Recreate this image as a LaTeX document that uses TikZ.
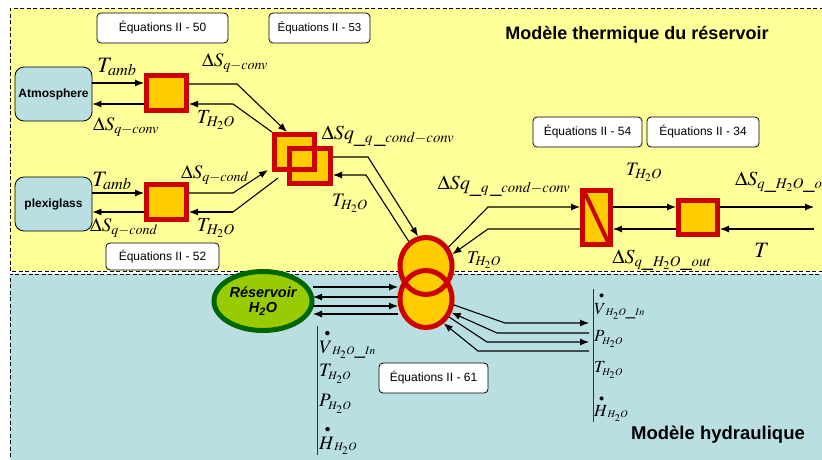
\documentclass[tikz,border=0pt]{standalone}
\usepackage{mathptmx}
\usepackage{fontspec}
\setmainfont{Liberation Sans}
\usetikzlibrary{arrows.meta,calc,shapes.geometric}
\definecolor{ybg}{HTML}{FFFF99}
\definecolor{bbg}{HTML}{B9DFE3}
\definecolor{orng}{HTML}{FFCC00}
\definecolor{bred}{HTML}{CC0000}
\definecolor{gfill}{HTML}{99CC00}
\definecolor{gline}{HTML}{006600}
\newcommand{\fsz}[1]{\fontsize{#1}{#1}\selectfont}
\newcommand{\sbsc}[1]{_{\scriptscriptstyle #1}}
\newcommand{\bdot}[1]{\mathord{\stackrel{\raisebox{1pt}{\scalebox{0.6}{$\bullet$}}}{#1}}}
\begin{document}
\begin{tikzpicture}[x=1pt,y=-1pt,
  conn/.style={line width=1.1pt},
  arr/.style={conn,-{Latex[length=9pt,width=7pt]}},
  dashline/.style={line width=0.9pt,dash pattern=on 4pt off 2.5pt},
  redsq/.style={fill=orng,draw=bred,line width=5pt,inner sep=0pt},
  fillonly/.style={fill=orng,inner sep=0pt,outer sep=0pt},
  outline/.style={draw=bred,line width=5pt,inner sep=0pt},
  eqbox/.style={draw,fill=white,rounded corners=4pt,line width=0.8pt,inner sep=0pt,minimum height=30,font=\fsz{12}},
  srcbox/.style={draw,fill=bbg,rounded corners=9pt,line width=0.8pt,inner sep=0pt,minimum width=77,minimum height=54,font=\fsz{12}\bfseries},
  lbl/.style={inner sep=0pt,font=\fsz{19}},
  title/.style={inner sep=0pt,font=\fsz{18}\bfseries},
  vline/.style={line width=1pt,black!80}]
\useasboundingbox (0,0) rectangle (822,459);
% backgrounds
\fill[white] (0,0) rectangle (822,459);
\fill[ybg] (10,8) rectangle (830,271);
\fill[bbg] (10,274) rectangle (830,470);
\draw[dashline] (830,8) -- (10,8) -- (10,271) -- (830,271);
\draw[dashline] (10,470) -- (10,274) -- (830,274);

% titles and equation boxes
\node[title] (tth) at (637,35) {Modèle thermique du réservoir};
\node[title,font=\fsz{18.5}\bfseries] (thy) at (718,435) {Modèle hydraulique};
\node[eqbox,minimum width=131] (e50) at (162.5,28) {Équations II - 50};
\node[eqbox,minimum width=101,font=\fsz{11.5}] (e53) at (319.5,28) {Équations II - 53};
\node[eqbox,minimum width=113,minimum height=27] (e52) at (162.5,256.5) {Équations II - 52};
\node[eqbox,minimum width=109] (e54) at (587.5,132) {Équations II - 54};
\node[eqbox,minimum width=112] (e34) at (703,132) {Équations II - 34};
\node[eqbox,minimum width=109] (e61) at (433.5,378) {Équations II - 61};

% sources
\node[srcbox] (atm) at (53.5,94) {Atmosphere};
\node[srcbox] (plex) at (53.5,204) {plexiglass};

% red/orange blocks
\node[redsq,minimum width=40,minimum height=35] (sq1) at (166.5,93) {};
\node[redsq,minimum width=40,minimum height=35] (sq2) at (166.5,202) {};
\node[fillonly,minimum width=45,minimum height=40] (dsqAf) at (294.5,152) {};
\node[fillonly,minimum width=46,minimum height=40] (dsqBf) at (310,166) {};
\node[outline,minimum width=40,minimum height=35] (dsqA) at (294.5,152) {};
\node[outline,minimum width=41,minimum height=35] (dsqB) at (310,166) {};
\node[redsq,minimum width=28,minimum height=54] (rectD) at (596.5,217.5) {};
\draw[bred,line width=4pt] ($(rectD.north west)+(5,5)$) -- ($(rectD.south east)+(-5,-5)$);
\node[redsq,minimum width=39,minimum height=34] (sq4) at (698,217.5) {};

% two circles
\node[ellipse,fillonly,minimum width=57,minimum height=62] (cAf) at (426,266) {};
\node[ellipse,fillonly,minimum width=57,minimum height=62] (cBf) at (426,299) {};
\node[ellipse,outline,minimum width=52,minimum height=57] (cA) at (426,266) {};
\node[ellipse,outline,minimum width=52,minimum height=57] (cB) at (426,299) {};

% reservoir
\node[ellipse,fill=gfill,draw=gline,line width=5pt,inner sep=0pt,minimum width=98,minimum height=59,
      align=center,font=\fsz{14.5}\bfseries\itshape] (res) at (263,301) {Réservoir\\[1pt]H\textsubscript{2}O};

% coordinates for rows and bends
\coordinate (y83) at (0,83);   \coordinate (y104) at (0,104);
\coordinate (y193) at (0,193); \coordinate (y212) at (0,212);
\coordinate (y207) at (0,207); \coordinate (y229) at (0,229);
\coordinate (k1) at (237,84);  \coordinate (k2) at (233,104);
\coordinate (k3) at (233,193); \coordinate (k4) at (233,212);
\coordinate (k5) at (368,157); \coordinate (k6) at (366,175);
\coordinate (k7) at (488,207); \coordinate (k8) at (488,229);
\coordinate (outR) at (814,207); \coordinate (inR) at (814,229);

% left connectors
\draw[arr] (atm.east |- y83) -- (sq1.west |- y83);
\draw[arr] (sq1.west |- y104) -- (atm.east |- y104);
\draw[arr] (plex.east |- y193) -- (sq2.west |- y193);
\draw[arr] (sq2.west |- y212) -- (plex.east |- y212);
\draw[arr] (sq1.east |- k1) -- (k1) -- ($(dsqA.north west)+(15,0)$);
\draw[arr] (dsqA.north west) -- (k2) -- (sq1.east |- k2);
\draw[arr] (sq2.east |- k3) -- (k3) -- ($(dsqA.south west)+(-4,-2)$);
\draw[conn] ($(dsqA.south west)+(6,6)$) -- (k4);
\draw[arr] (k4) -- (sq2.east |- k4);
% centre connectors
\draw[arr] (dsqB.east |- k5) -- (k5) -- (cA.105);
\draw[arr] (cA.125) -- (k6) -- (dsqB.east |- k6);
% right connectors
\draw[arr] (cA.40) -- (k7) -- (rectD.west |- k7);
\draw[arr] (rectD.west |- k8) -- (k8) -- (cA.24);
\draw[arr] (rectD.east |- y207) -- (sq4.west |- y207);
\draw[arr] (sq4.west |- y229) -- (rectD.east |- y229);
\draw[arr] (sq4.east |- outR) -- (outR);
\draw[arr] (inR) -- (sq4.east |- inR);

% reservoir <-> circles
\coordinate (rx) at (313,0); \coordinate (cx) at (398,0);
\coordinate (h1) at (0,287); \coordinate (h2) at (0,297);
\coordinate (h3) at (0,306); \coordinate (h4) at (0,314);
\draw[arr] (rx |- h1) -- (cx |- h1);
\draw[arr] (cx |- h2) -- (rx |- h2);
\draw[arr] (rx |- h3) -- (cx |- h3);
\draw[arr] (cx |- h4) -- (rx |- h4);

% circles -> right list
\coordinate (b1) at (505,323); \coordinate (b2) at (497,333);
\coordinate (b3) at (487,342); \coordinate (b4) at (478,351);
\coordinate (vr) at (589,0);
\draw[arr] (cB.-12) -- (b1) -- (vr |- b1);
\draw[arr] (vr |- b2) -- (b2) -- (cB.-28);
\draw[arr] (cB.-38) -- (b3) -- (vr |- b3);
\draw[arr] (vr |- b4) -- (b4) -- (cB.-54);

% vertical bars
\coordinate (vlt) at (317,326); \coordinate (vlb) at (317,455);
\coordinate (vrt) at (593,289); \coordinate (vrb) at (593,422);
\draw[vline] (vlt) -- (vlb);
\draw[vline] (vrt) -- (vrb);

% labels top-left
\node[lbl,font=\fsz{22}] (l1) at (117,67) {$T_{amb}$};
\node[lbl] (l2) at (126,127) {$\Delta S_{q-conv}$};
\node[lbl] (l3) at (235,63) {$\Delta S_{q-conv}$};
\node[lbl,font=\fsz{20}] (l4) at (216,120) {$T_{H_2O}$};
\node[lbl,font=\fsz{22}] (l5) at (112,181) {$T_{amb}$};
\node[lbl] (l6) at (124,228) {$\Delta S_{q-cond}$};
\node[lbl] (l7) at (215,175) {$\Delta S_{q-cond}$};
\node[lbl,font=\fsz{20}] (l8) at (216,228) {$T_{H_2O}$};
% labels centre
\node[lbl,font=\fsz{20}] (l9) at (388,136) {$\Delta Sq_{\_q\,\_cond-conv}$};
\node[lbl] (l10) at (350,203) {$T_{H_2O}$};
\node[lbl,font=\fsz{20}] (l11) at (504,186) {$\Delta Sq_{\_q\,\_cond-conv}$};
\node[lbl,font=\fsz{18}] (l12) at (484,260) {$T_{H_2O}$};
% labels right
\node[lbl] (l13) at (644,172) {$T_{H_2O}$};
\node[lbl,font=\fsz{20}] (l14) at (662,260) {$\Delta S_{q\_H_2O\_out}$};
\node[lbl,font=\fsz{20},anchor=west] (l15) at (735,182) {$\Delta S_{q\_H_2O\_out}$};
\node[lbl,font=\fsz{22}] (l16) at (762,250) {$T$};

% left list
\node[lbl,anchor=west] (bl1) at (319,344) {$\bdot{V}\sbsc{H_2O\_In}$};
\node[lbl,anchor=west] (bl2) at (319,374) {$T\sbsc{H_2O}$};
\node[lbl,anchor=west] (bl3) at (319,404) {$P\sbsc{H_2O}$};
\node[lbl,anchor=west] (bl4) at (319,440) {$\bdot{H}\sbsc{H_2O}$};
% right list
\node[lbl,font=\fsz{17},anchor=west] (br1) at (594,306) {$\bdot{V}\sbsc{H_2O\_In}$};
\node[lbl,font=\fsz{17},anchor=west] (br2) at (594,339) {$P\sbsc{H_2O}$};
\node[lbl,font=\fsz{17},anchor=west] (br3) at (594,370) {$T\sbsc{H_2O}$};
\node[lbl,font=\fsz{17},anchor=west] (br4) at (594,408) {$\bdot{H}\sbsc{H_2O}$};
\end{tikzpicture}
\end{document}
